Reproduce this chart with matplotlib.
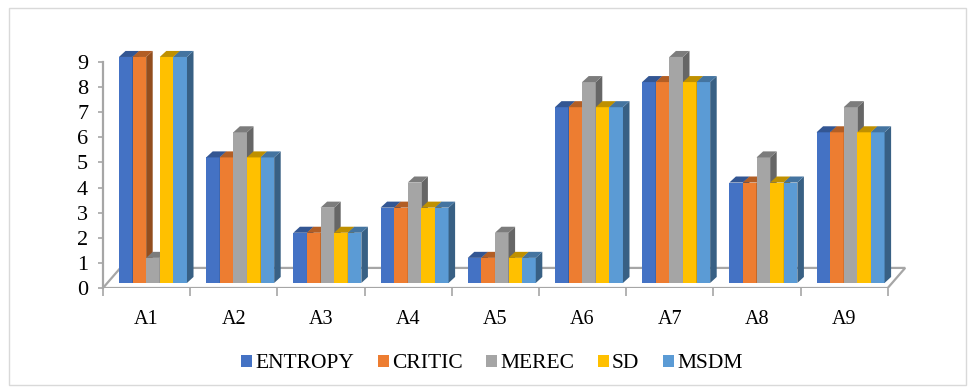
import matplotlib.pyplot as plt
from matplotlib.patches import Polygon, Patch, Rectangle
from matplotlib.colors import to_rgb

plt.rcParams['font.family'] = ['Liberation Serif', 'DejaVu Serif']

categories = ['A1', 'A2', 'A3', 'A4', 'A5', 'A6', 'A7', 'A8', 'A9']
methods = ['ENTROPY', 'CRITIC', 'MEREC', 'SD', 'MSDM']
entropy = [9, 5, 2, 3, 1, 7, 8, 4, 6]
critic = [9, 5, 2, 3, 1, 7, 8, 4, 6]
merec = [1, 6, 3, 4, 2, 8, 9, 5, 7]
sd = [9, 5, 2, 3, 1, 7, 8, 4, 6]
msdm = [9, 5, 2, 3, 1, 7, 8, 4, 6]
series = [entropy, critic, merec, sd, msdm]
colors = ['#4472C4', '#ED7D31', '#A5A5A5', '#FFC000', '#5B9BD5']


def shade(c, f):
    r, g, b = to_rgb(c)
    return (r * f, g * f, b * f)


fig = plt.figure(figsize=(9.74, 3.92), dpi=100)
ax = fig.add_axes([0.1057, 0.2653, 0.8326, 0.615])
ax.set_xlim(-0.5, 8.8)
ax.set_ylim(0, 9.6)

# 3d look: depth offsets and lift of the bars above the floor edge
bw = 0.156
dx, dy = 0.075, 0.24
base = 0.2
axis_col = '#A6A6A6'

# floor
floor = Polygon([(-0.5, 0), (8.5, 0), (8.7, 0.8), (-0.3, 0.8)], closed=True,
                facecolor='none', edgecolor=axis_col, lw=1.6, zorder=1)
ax.add_patch(floor)

z = 3
for i in range(len(categories)):
    for j, vals in enumerate(series):
        left = i - 0.3165 + j * bw
        h = vals[i]
        top = base + h
        c = colors[j]
        ax.bar(left, h, width=bw, bottom=base, align='edge', color=c,
               linewidth=0, zorder=z)
        side = Polygon([(left + bw, base), (left + bw + dx, base + dy),
                        (left + bw + dx, top + dy), (left + bw, top)],
                       closed=True, facecolor=shade(c, 0.62), lw=0, zorder=z)
        cap = Polygon([(left, top), (left + bw, top), (left + bw + dx, top + dy),
                       (left + dx, top + dy)],
                      closed=True, facecolor=shade(c, 0.75), lw=0, zorder=z)
        ax.add_patch(side)
        ax.add_patch(cap)
        z += 1

for s in ['top', 'right', 'bottom']:
    ax.spines[s].set_visible(False)
ax.spines['left'].set_color(axis_col)
ax.spines['left'].set_linewidth(1.6)
ax.spines['left'].set_bounds(0, 9)
ax.spines['left'].set_position(('data', -0.5))

ax.set_yticks(range(10))
ax.tick_params(axis='y', colors=axis_col, labelcolor='black', labelsize=16,
               length=3.6, width=1.2, pad=7)

ax.set_xticks(range(len(categories)))
ax.set_xticklabels(categories)
ax.set_xticks([k - 0.5 for k in range(len(categories) + 1)], minor=True)
ax.tick_params(axis='x', which='major', length=0, labelsize=14.5, pad=16)
ax.tick_params(axis='x', which='minor', length=6, width=1.2, colors=axis_col)

handles = [Patch(facecolor=c, edgecolor='none') for c in colors]
fig.legend(handles, methods, loc='center', bbox_to_anchor=(0.505, 1 - 364 / 392),
           ncol=5, frameon=False, fontsize=15.5, handlelength=0.5,
           handleheight=0.5, handletextpad=0.15, columnspacing=1.1)

fig.patches.append(Rectangle((9 / 974, 7 / 392), 957 / 974, 377 / 392,
                             transform=fig.transFigure, fill=False,
                             edgecolor='#D9D9D9', lw=1.0))

fig.savefig('out.png', dpi=100)
